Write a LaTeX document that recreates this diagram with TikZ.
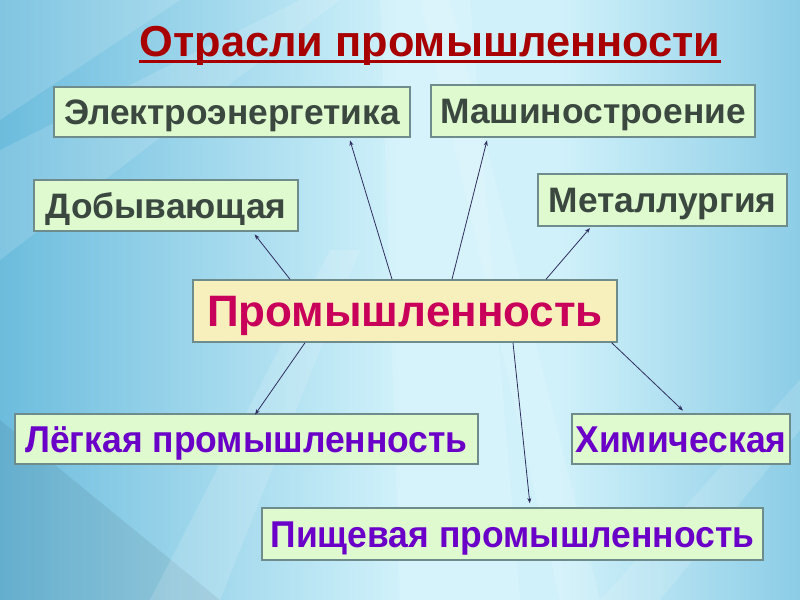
\documentclass[tikz,border=0pt]{standalone}
\usepackage{fontspec}
\setmainfont{Liberation Sans}
\newfontfamily\narrowfont[FakeStretch=0.95]{Liberation Sans}
\usetikzlibrary{arrows.meta}
\definecolor{bgA}{HTML}{3F97C2}
\definecolor{bgB}{HTML}{6CBCDD}
\definecolor{bgC}{HTML}{D0F1FA}
\definecolor{bgD}{HTML}{4AAAD6}
\definecolor{boxfill}{HTML}{E0FAD0}
\definecolor{boxdraw}{HTML}{6E8C8C}
\definecolor{promfill}{HTML}{F8F0BC}
\definecolor{darktext}{HTML}{3A4840}
\definecolor{promtext}{HTML}{C8005A}
\definecolor{purpletext}{HTML}{6A00C8}
\definecolor{titlered}{HTML}{A80000}
\definecolor{arrowc}{HTML}{2E2E5E}
\pgfdeclarehorizontalshading{bgsh}{100bp}{color(0bp)=(bgA); color(25bp)=(bgB); color(50bp)=(bgC); color(60bp)=(bgC); color(82bp)=(bgB); color(100bp)=(bgD)}
\tikzset{
  basebox/.style={draw=boxdraw, line width=1.1pt, fill=boxfill, inner sep=0pt},
  topbox/.style={basebox, text=darktext, font=\fontsize{26.5}{30}\selectfont\bfseries, text height=19pt, text depth=0pt},
  lowbox/.style={basebox, text=purpletext, font=\fontsize{28}{32}\narrowfont\bfseries, text height=20pt, text depth=0pt},
  centerbox/.style={basebox, fill=promfill, text=promtext, font=\fontsize{33}{38}\selectfont\bfseries, text height=23.6pt, text depth=0pt},
  link/.style={draw=arrowc, line width=0.6pt, -{Stealth[length=4pt,width=3pt]}},
  streak/.style={fill=white, opacity=0.14}
}
\begin{document}
\begin{tikzpicture}[x=0.75pt,y=-0.75pt]
\useasboundingbox (0,0) rectangle (800,600);
\shade[shading=bgsh] (0,0) rectangle (800,600);
% streaks
\fill[streak] (380,0) -- (470,0) -- (520,600) -- (400,600) -- cycle;
\fill[streak] (420,0) -- (450,0) -- (600,600) -- (560,600) -- cycle;
\fill[streak] (0,150) -- (300,0) -- (340,0) -- (0,260) -- cycle;
\fill[streak] (600,600) -- (800,380) -- (800,430) -- (660,600) -- cycle;
\fill[black, opacity=0.07] (0,600) -- (220,600) -- (0,420) -- cycle;
\fill[streak] (150,600) -- (330,250) -- (360,250) -- (220,600) -- cycle;
\fill[streak] (0,0) -- (180,0) -- (0,120) -- cycle;
% title
\node[inner sep=0pt, text=titlered, font=\fontsize{32.5}{38}\selectfont\bfseries, anchor=base] (title) at (430,56) {Отрасли промышленности};
\draw[titlered, line width=2.2pt] ([yshift=-4pt]title.base west) -- ([yshift=-4pt]title.base east);
% boxes
\node[topbox, minimum width=267pt, minimum height=37.5pt] (elec) at (232,112) {Электроэнергетика};
\node[topbox, minimum width=243pt, minimum height=39pt] (mash) at (593,111) {Машиностроение};
\node[topbox, minimum width=198pt, minimum height=38.25pt] (dob) at (166,205.5) {Добывающая};
\node[topbox, minimum width=186.75pt, minimum height=39pt] (met) at (662.5,200) {Металлургия};
\node[centerbox, minimum width=318pt, minimum height=46.5pt] (prom) at (405,311) {Промышленность};
\node[lowbox, minimum width=347.25pt, minimum height=37.5pt] (leg) at (246.5,439) {Лёгкая промышленность};
\node[lowbox, minimum width=163.5pt, minimum height=37.5pt] (him) at (681,439) {Химическая};
\node[lowbox, minimum width=375.75pt, minimum height=39pt] (pish) at (512.5,534) {Пищевая промышленность};
% links
\draw[link] ([xshift=-86.25pt]prom.north) -- ([xshift=66.5pt,yshift=-2pt]dob.south);
\draw[link] ([xshift=-9.75pt]prom.north) -- ([xshift=88.5pt,yshift=-2pt]elec.south);
\draw[link] ([xshift=35.25pt]prom.north) -- ([xshift=-79.5pt,yshift=-2pt]mash.south);
\draw[link] ([xshift=105.75pt]prom.north) -- ([xshift=-54.4pt,yshift=-1pt]met.south);
\draw[link] ([xshift=-75pt]prom.south) -- ([xshift=6.4pt,yshift=-1pt]leg.north);
\draw[link] ([xshift=81pt]prom.south) -- ([xshift=13pt,yshift=3pt]pish.north);
\draw[link] ([xshift=155pt]prom.south) -- ([xshift=1.5pt,yshift=2pt]him.north);
\end{tikzpicture}
\end{document}
